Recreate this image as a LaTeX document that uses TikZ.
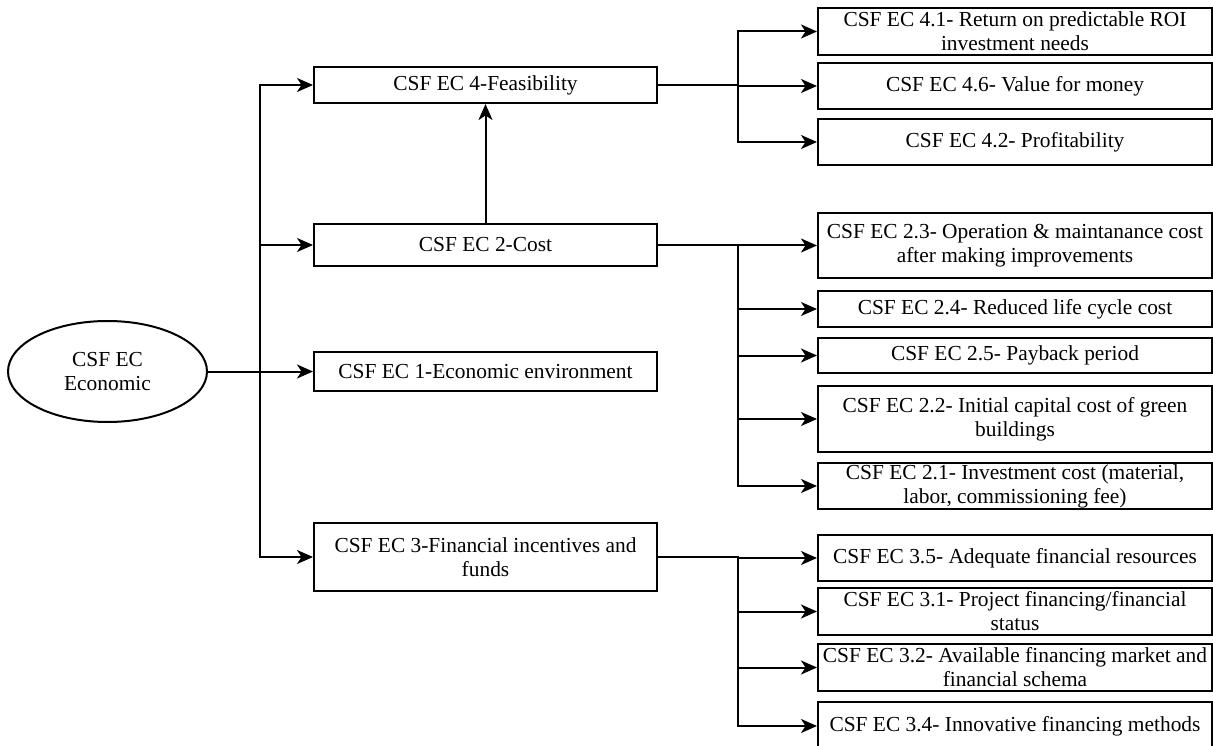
\documentclass[tikz,border=0pt]{standalone}
\usepackage{fontspec}
\setmainfont{Liberation Serif}
\usetikzlibrary{arrows.meta,shapes.geometric}
\begin{document}
\begin{tikzpicture}[x=1pt,y=-1pt,
  every node/.style={font=\fontsize{21.4}{24}\selectfont},
  box/.style={draw, line width=2pt, fill=white, inner sep=0pt,
    align=center, minimum width=#1},
  mainbox/.style={box=343pt},
  subbox/.style={box=394pt},
  link/.style={line width=2pt, line join=miter,
    -{Stealth[length=16pt,width=14pt,inset=4.5pt]}}]
\useasboundingbox (0,0) rectangle (1213,746);

% root
\node[draw, ellipse, line width=2pt, minimum width=199pt, minimum height=101pt,
  inner sep=0pt, align=center] (eco) at (107.5,371.5) {CSF EC\\Economic};

% first level
\node[mainbox, minimum height=36pt] (feas) at (485.5,85)  {CSF EC 4-Feasibility};
\node[mainbox, minimum height=42pt] (cost) at (485.5,245) {CSF EC 2-Cost};
\node[mainbox, minimum height=39pt] (env)  at (485.5,371.5) {CSF EC 1-Economic environment};
\node[mainbox, minimum height=68pt] (fin)  at (485.5,557) {CSF EC 3-Financial incentives and\\funds};

% feasibility details
\node[subbox, minimum height=47pt] (b41) at (1015,31.5) {CSF EC 4.1- Return on predictable ROI\\investment needs};
\node[subbox, minimum height=46pt] (b46) at (1015,86)   {CSF EC 4.6- Value for money};
\node[subbox, minimum height=46pt] (b42) at (1015,142)  {CSF EC 4.2- Profitability};

% cost details
\node[subbox, minimum height=65pt] (b23) at (1015,245.5) {CSF EC 2.3- Operation \& maintanance cost\\after making improvements};
\node[subbox, minimum height=36pt] (b24) at (1015,309)   {CSF EC 2.4- Reduced life cycle cost};
\node[subbox, minimum height=35pt] (b25) at (1015,355.5) {CSF EC 2.5- Payback period};
\node[subbox, minimum height=66pt] (b22) at (1015,419)   {CSF EC 2.2- Initial capital cost of green\\buildings};
\node[subbox, minimum height=46pt] (b21) at (1015,486)   {CSF EC 2.1- Investment cost (material,\\labor, commissioning fee)};

% financing details
\node[subbox, minimum height=46pt] (b35) at (1015,558)   {CSF EC 3.5- Adequate financial resources};
\node[subbox, minimum height=47pt] (b31) at (1015,611.5) {CSF EC 3.1- Project financing/financial\\status};
\node[subbox, minimum height=47pt] (b32) at (1015,667.5) {CSF EC 3.2- Available financing market and\\financial schema};
\node[subbox, minimum height=48pt] (b34) at (1015,726)   {CSF EC 3.4- Innovative financing methods};

% branching points
\coordinate (j0) at (260,371.5);
\coordinate (j4) at (738,85);
\coordinate (j2) at (738,245);
\coordinate (j3) at (738,557);

% root to first level
\draw[link] (eco.east) -- (env.west);
\draw[link] (eco.east) -- (j0) |- (feas.west);
\draw[link] (eco.east) -- (j0) |- (cost.west);
\draw[link] (eco.east) -- (j0) |- (fin.west);
\draw[link] (cost.north) -- (feas.south);

% first level to details
\foreach \b in {b41,b46,b42}{\draw[link] (feas.east) -- (j4) |- (\b.west);}
\foreach \b in {b23,b24,b25,b22,b21}{\draw[link] (cost.east) -- (j2) |- (\b.west);}
\foreach \b in {b35,b31,b32,b34}{\draw[link] (fin.east) -- (j3) |- (\b.west);}
\end{tikzpicture}
\end{document}
